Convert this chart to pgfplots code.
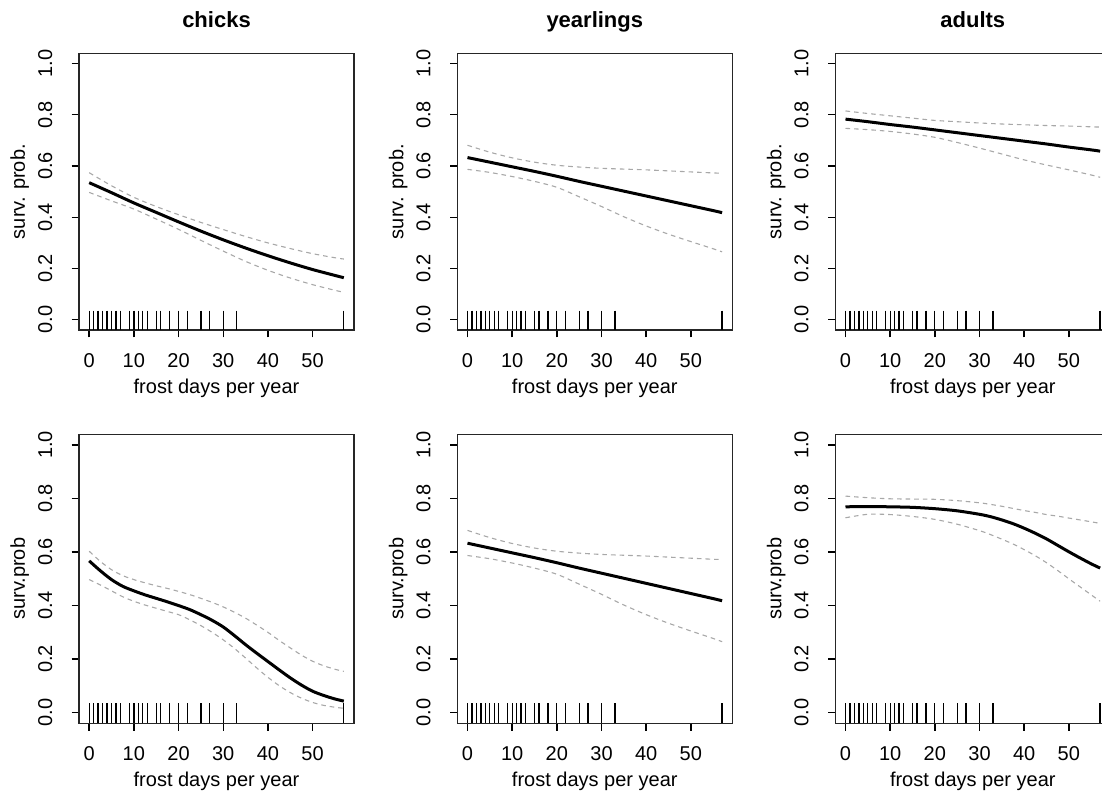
\documentclass[border=0pt]{standalone}
\usepackage{graphicx}
\usepackage{pgfplots}
\pgfplotsset{compat=1.18}
\usepackage{pgfplotstable}
\usepackage{fontspec}
\setmainfont{Liberation Sans}

\definecolor{cigray}{RGB}{168,168,168}

% rug: observed frost days (drawn as | marks from the box floor)
\pgfplotstableread{
x y
0 -0.0025
1 -0.0025
2 -0.0025
3 -0.0025
4 -0.0025
5 -0.0025
6 -0.0025
7 -0.0025
9 -0.0025
10 -0.0025
11 -0.0025
12 -0.0025
13 -0.0025
15 -0.0025
16 -0.0025
18 -0.0025
20 -0.0025
22 -0.0025
25 -0.0025
27 -0.0025
30 -0.0025
33 -0.0025
57 -0.0025
}\rugdata

% top row: chicks
\pgfplotstableread{
x fit lo hi
0 0.535 0.497 0.574
5 0.496 0.464 0.523
10 0.456 0.432 0.478
15 0.419 0.393 0.442
20 0.382 0.353 0.410
25 0.346 0.310 0.380
30 0.312 0.268 0.352
35 0.280 0.228 0.325
40 0.250 0.193 0.300
45 0.222 0.163 0.278
50 0.196 0.137 0.258
55 0.173 0.115 0.242
57 0.164 0.107 0.237
}\chicksA

% yearlings (both rows)
\pgfplotstableread{
x fit lo hi
0 0.633 0.587 0.681
5 0.615 0.575 0.654
10 0.597 0.559 0.632
15 0.579 0.540 0.615
20 0.560 0.517 0.603
25 0.540 0.480 0.596
30 0.521 0.442 0.591
35 0.502 0.402 0.588
40 0.483 0.366 0.585
45 0.464 0.334 0.581
50 0.445 0.305 0.577
55 0.426 0.277 0.573
57 0.418 0.265 0.572
}\yearl

% top row: adults
\pgfplotstableread{
x fit lo hi
0 0.783 0.747 0.815
5 0.773 0.742 0.805
10 0.762 0.735 0.796
15 0.752 0.725 0.787
20 0.741 0.712 0.778
25 0.730 0.692 0.773
30 0.719 0.670 0.768
35 0.708 0.647 0.764
40 0.697 0.624 0.761
45 0.686 0.604 0.758
50 0.674 0.585 0.756
55 0.663 0.565 0.753
57 0.658 0.556 0.752
}\adultsA

% bottom row: chicks (smooth term)
\pgfplotstableread{
x fit lo hi
0 0.567 0.497 0.603
2.5 0.530 0.477 0.565
5 0.497 0.455 0.534
7.5 0.472 0.433 0.512
10 0.455 0.416 0.497
12.5 0.440 0.402 0.485
15 0.427 0.390 0.474
17.5 0.414 0.378 0.464
20 0.400 0.366 0.453
22.5 0.385 0.347 0.441
25 0.366 0.325 0.427
27.5 0.345 0.300 0.412
30 0.320 0.272 0.395
32.5 0.288 0.240 0.375
35 0.254 0.204 0.353
37.5 0.222 0.167 0.327
40 0.191 0.132 0.300
42.5 0.160 0.101 0.270
45 0.130 0.075 0.242
47.5 0.103 0.054 0.215
50 0.080 0.038 0.192
52.5 0.064 0.027 0.175
55 0.051 0.020 0.162
57 0.043 0.016 0.154
}\chicksB

% bottom row: adults (smooth term)
\pgfplotstableread{
x fit lo hi
0 0.769 0.728 0.809
5 0.770 0.741 0.803
10 0.769 0.740 0.799
15 0.767 0.733 0.798
20 0.762 0.722 0.797
25 0.754 0.704 0.792
30 0.741 0.680 0.784
32.5 0.732 0.665 0.778
35 0.720 0.648 0.771
37.5 0.706 0.630 0.763
40 0.689 0.609 0.755
42.5 0.670 0.586 0.748
45 0.649 0.560 0.740
47.5 0.625 0.531 0.734
50 0.601 0.500 0.727
52.5 0.578 0.470 0.720
55 0.556 0.440 0.713
57 0.540 0.416 0.707
}\adultsB

\pgfplotsset{
  panel/.style={
    scale only axis, width=137.5pt, anchor=south west,
    xmin=-2.28, xmax=59.28, ymin=-0.04, ymax=1.04,
    xtick={0,10,20,30,40,50}, ytick={0,0.2,0.4,0.6,0.8,1.0},
    tick align=outside, tick pos=left,
    major tick length=3.65pt,
    axis line style={line width=0.7pt, black!85},
    every tick/.style={line width=0.7pt, black},
    /pgf/number format/assume math mode=true,
    % R-style labels: rotated, baseline facing the axis, 9.5pt gap
    yticklabel={\rotatebox{90}{\pgfmathprintnumber[fixed,fixed zerofill,precision=1]{\tick}}\kern9.5pt},
    yticklabel style={anchor=east, inner sep=0pt},
    xticklabel style={anchor=north, inner sep=0pt},
    xticklabel shift=8pt,
    tick label style={font=\fontsize{10}{12}\selectfont},
    label style={font=\fontsize{10}{12}\selectfont},
    xlabel={frost days per year},
    xlabel style={at={(axis description cs:0.5,0)}, anchor=base, yshift=-31.75pt},
    ylabel style={at={(axis description cs:-0.19636,0.5)}, anchor=base},
    title style={at={(axis description cs:0.5,1)}, anchor=base, yshift=7pt,
      font=\fontsize{11}{13}\bfseries\selectfont},
  },
  fitline/.style={black, line width=1.5pt, smooth},
  ciline/.style={cigray, line width=0.55pt, dash pattern=on 2.3pt off 2pt, smooth},
  rug/.style={black, only marks, mark=|, mark size=4.9pt, forget plot,
    mark options={line width=0.65pt, solid}},
}

\begin{document}
\begin{tikzpicture}
\path[use as bounding box] (0,0) rectangle (551pt,395.5pt);

% ---- top row ----
\begin{axis}[panel, at={(39.5pt,230.5pt)}, height=138.35pt,
  title={chicks}, ylabel={surv. prob.}]
\addplot[rug] table {\rugdata};
\addplot[ciline] table[x=x,y=hi] {\chicksA};
\addplot[ciline] table[x=x,y=lo] {\chicksA};
\addplot[fitline] table[x=x,y=fit] {\chicksA};
\end{axis}

\begin{axis}[panel, at={(228.65pt,230.5pt)}, height=138.35pt,
  title={yearlings}, ylabel={surv. prob.}]
\addplot[rug] table {\rugdata};
\addplot[ciline] table[x=x,y=hi] {\yearl};
\addplot[ciline] table[x=x,y=lo] {\yearl};
\addplot[fitline] table[x=x,y=fit] {\yearl};
\end{axis}

\begin{axis}[panel, at={(417.65pt,230.5pt)}, height=138.35pt,
  title={adults}, ylabel={surv. prob.}]
\addplot[rug] table {\rugdata};
\addplot[ciline] table[x=x,y=hi] {\adultsA};
\addplot[ciline] table[x=x,y=lo] {\adultsA};
\addplot[fitline] table[x=x,y=fit] {\adultsA};
\end{axis}

% ---- bottom row ----
\begin{axis}[panel, at={(39.5pt,33.85pt)}, height=144.5pt,
  ylabel={surv.prob}]
\addplot[rug] table {\rugdata};
\addplot[ciline] table[x=x,y=hi] {\chicksB};
\addplot[ciline] table[x=x,y=lo] {\chicksB};
\addplot[fitline] table[x=x,y=fit] {\chicksB};
\end{axis}

\begin{axis}[panel, at={(228.65pt,33.85pt)}, height=144.5pt,
  ylabel={surv.prob}]
\addplot[rug] table {\rugdata};
\addplot[ciline] table[x=x,y=hi] {\yearl};
\addplot[ciline] table[x=x,y=lo] {\yearl};
\addplot[fitline] table[x=x,y=fit] {\yearl};
\end{axis}

\begin{axis}[panel, at={(417.65pt,33.85pt)}, height=144.5pt,
  ylabel={surv.prob}]
\addplot[rug] table {\rugdata};
\addplot[ciline] table[x=x,y=hi] {\adultsB};
\addplot[ciline] table[x=x,y=lo] {\adultsB};
\addplot[fitline] table[x=x,y=fit] {\adultsB};
\end{axis}
\end{tikzpicture}
\end{document}
